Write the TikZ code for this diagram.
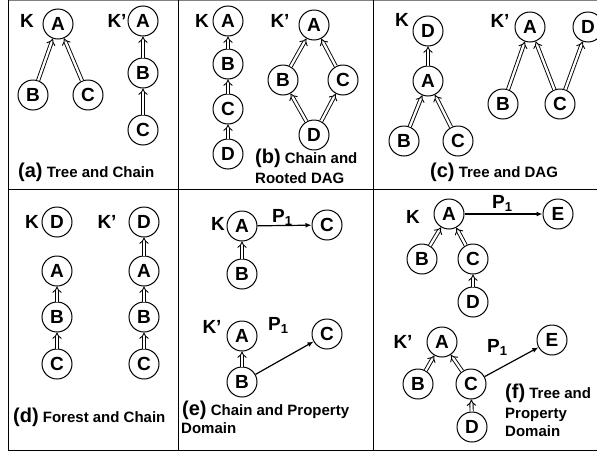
\documentclass[tikz,border=0pt]{standalone}
\usepackage{fontspec}
\setmainfont{Liberation Sans}
\usetikzlibrary{arrows.meta}
\newcommand{\bigpar}[1]{{\fontsize{20}{20}\selectfont #1}}
\newcommand{\propP}{P\raisebox{-3.5pt}{\fontsize{13}{13}\selectfont 1}}
\begin{document}
\begin{tikzpicture}[x=1pt,y=-1pt,
  vtx/.style={circle,draw,line width=1pt,minimum size=30pt,inner sep=0pt,
    font=\fontsize{19}{19}\selectfont\bfseries},
  lbl/.style={inner sep=0pt,font=\fontsize{19}{19}\selectfont\bfseries},
  plbl/.style={anchor=base west,inner sep=0pt,font=\fontsize{19}{19}\selectfont\bfseries},
  captext/.style={anchor=base west,inner sep=0pt,font=\fontsize{15}{15}\selectfont\bfseries},
  isa/.style={line width=0.9pt,double,double distance=2.3pt,-{Implies}},
  prop/.style={line width=1.2pt,-{Latex[length=6pt,width=5pt]}},
  frame/.style={line width=1pt}]
\useasboundingbox (0,0) rectangle (597,453);

% table frame
\draw[gray,line width=1pt] (8,0.6) -- (597,0.6);
\draw[frame] (8,0) -- (8,450.5) -- (597,450.5);
\draw[frame] (8,189.3) -- (597,189.3);
\draw[frame] (178.3,0) -- (178.3,450.5);
\draw[frame] (373.3,0) -- (373.3,450.5);

% (a) tree and chain
\node[lbl] (ka) at (27,21) {K};
\node[vtx] (aA) at (58,24) {A};
\node[vtx] (aB) at (33,95) {B};
\node[vtx] (aC) at (88,95) {C};
\node[lbl] (kpa) at (117,21) {K’};
\node[vtx] (apA) at (143,21) {A};
\node[vtx] (apB) at (143,73) {B};
\node[vtx] (apC) at (143,130) {C};
\draw[isa] (aB) -- (aA);
\draw[isa] (aC) -- (aA);
\draw[isa] (apB) -- (apA);
\draw[isa] (apC) -- (apB);
\node[captext] (capa) at (18,177) {\bigpar{(a)} Tree and Chain};

% (b) chain and rooted DAG
\node[lbl] (kb) at (202,21) {K};
\node[vtx] (bA) at (228,21) {A};
\node[vtx] (bB) at (228,64) {B};
\node[vtx] (bC) at (228,109) {C};
\node[vtx] (bD) at (228,154) {D};
\node[lbl] (kpb) at (280,21) {K’};
\node[vtx] (bpA) at (314,25) {A};
\node[vtx] (bpB) at (283,80) {B};
\node[vtx] (bpC) at (343,80) {C};
\node[vtx] (bpD) at (314,135) {D};
\draw[isa] (bB) -- (bA);
\draw[isa] (bC) -- (bB);
\draw[isa] (bD) -- (bC);
\draw[isa] (bpB) -- (bpA);
\draw[isa] (bpC) -- (bpA);
\draw[isa] (bpD) -- (bpB);
\draw[isa] (bpD) -- (bpC);
\node[captext] (capb1) at (255,163) {\bigpar{(b)} Chain and};
\node[captext] (capb2) at (255,183) {Rooted DAG};

% (c) tree and DAG
\node[lbl] (kc) at (402,20) {K};
\node[vtx] (cD) at (428,31) {D};
\node[vtx] (cA) at (428,81) {A};
\node[vtx] (cB) at (404,141) {B};
\node[vtx] (cC) at (458,141) {C};
\node[lbl] (kpc) at (500,21) {K’};
\node[vtx] (cpA) at (530,27) {A};
\node[vtx] (cpD) at (588,27) {D};
\node[vtx] (cpB) at (503,104) {B};
\node[vtx] (cpC) at (560,104) {C};
\draw[isa] (cA) -- (cD);
\draw[isa] (cB) -- (cA);
\draw[isa] (cC) -- (cA);
\draw[isa] (cpB) -- (cpA);
\draw[isa] (cpC) -- (cpA);
\draw[isa] (cpC) -- (cpD);
\node[captext] (capc) at (430,177) {\bigpar{(c)} Tree and DAG};

% (d) forest and chain
\node[lbl] (kd) at (32,222) {K};
\node[vtx] (dD) at (57,222) {D};
\node[vtx] (dA) at (57,271) {A};
\node[vtx] (dB) at (57,317) {B};
\node[vtx] (dC) at (57,364) {C};
\node[lbl] (kpd) at (107,222) {K’};
\node[vtx] (dpD) at (144,222) {D};
\node[vtx] (dpA) at (144,271) {A};
\node[vtx] (dpB) at (144,317) {B};
\node[vtx] (dpC) at (144,364) {C};
\draw[isa] (dB) -- (dA);
\draw[isa] (dC) -- (dB);
\draw[isa] (dpA) -- (dpD);
\draw[isa] (dpB) -- (dpA);
\draw[isa] (dpC) -- (dpB);
\node[captext] (capd) at (13,422) {\bigpar{(d)} Forest and Chain};

% (e) chain and property domain
\node[lbl] (ke) at (218,224) {K};
\node[vtx] (eA) at (242,226) {A};
\node[vtx] (eC) at (327,225) {C};
\node[vtx] (eB) at (242,274) {B};
\node[plbl] (ep) at (272,222) {\propP};
\draw[isa] (eB) -- (eA);
\draw[prop] (eA) -- (eC);
\node[lbl] (kpe) at (212,327) {K’};
\node[vtx] (epA) at (242,336) {A};
\node[vtx] (epC) at (327,334) {C};
\node[vtx] (epB) at (242,382) {B};
\node[plbl] (epp) at (268,330) {\propP};
\draw[isa] (epB) -- (epA);
\draw[prop] (epB) -- (epC);
\node[captext] (cape1) at (182,415) {\bigpar{(e)} Chain and Property};
\node[captext] (cape2) at (181,433) {Domain};

% (f) tree and property domain
\node[lbl] (kf) at (413,217) {K};
\node[vtx] (fA) at (449,214) {A};
\node[vtx] (fE) at (558,214) {E};
\node[vtx] (fB) at (422,259) {B};
\node[vtx] (fC) at (473,259) {C};
\node[vtx] (fD) at (473,302) {D};
\node[plbl] (fp) at (492,208) {\propP};
\draw[isa] (fB) -- (fA);
\draw[isa] (fC) -- (fA);
\draw[isa] (fD) -- (fC);
\draw[prop] (fA) -- (fE);
\node[lbl] (kpf) at (403,342) {K’};
\node[vtx] (fpA) at (442,342) {A};
\node[vtx] (fpE) at (552,340) {E};
\node[vtx] (fpB) at (418,384) {B};
\node[vtx] (fpC) at (471,384) {C};
\node[vtx] (fpD) at (472,427) {D};
\node[plbl] (fpp) at (487,352) {\propP};
\draw[isa] (fpB) -- (fpA);
\draw[isa] (fpC) -- (fpA);
\draw[isa] (fpD) -- (fpC);
\draw[prop] (fpC) -- (fpE);
\node[captext] (capf1) at (505,398) {\bigpar{(f)} Tree and};
\node[captext] (capf2) at (505,418) {Property};
\node[captext] (capf3) at (505,436) {Domain};
\end{tikzpicture}
\end{document}
